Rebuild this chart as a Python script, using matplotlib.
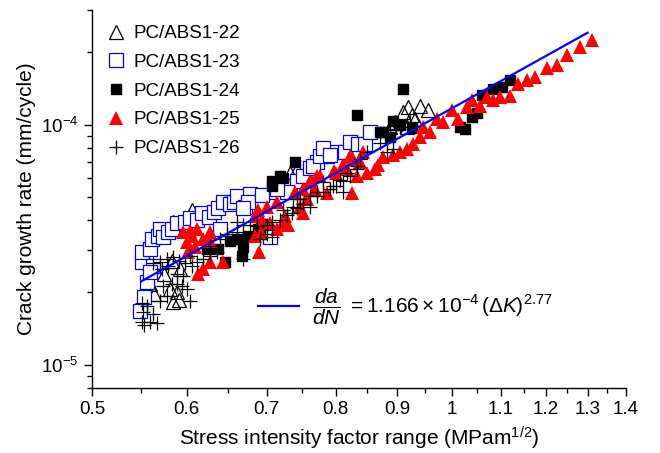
import numpy as np
import matplotlib
matplotlib.use("Agg")
import matplotlib.pyplot as plt
from matplotlib.ticker import FixedLocator, FixedFormatter, NullFormatter

plt.rcParams['font.family'] = ['Liberation Sans', 'DejaVu Sans']
plt.rcParams['mathtext.fontset'] = 'custom'
plt.rcParams['mathtext.rm'] = 'Liberation Sans'
plt.rcParams['mathtext.it'] = 'Liberation Sans:italic'

# PC/ABS1-22 (open triangles)
x22 = [0.585, 0.606, 0.575, 0.583, 0.593, 0.581, 0.589, 0.585, 0.591, 0.559, 0.564,
       0.705, 0.714, 0.732, 0.742, 0.725, 0.897, 0.888, 0.911, 0.927, 0.955, 0.932,
       0.918, 0.941, 0.920]
y22 = [3.93e-5, 4.4e-5, 2.39e-5, 2.71e-5, 2.5e-5, 2.07e-5, 2.01e-5, 1.83e-5, 1.86e-5,
       2.17e-5, 1.97e-5, 5.25e-5, 5.75e-5, 6.3e-5, 6.5e-5, 5.9e-5, 1.02e-4, 9.8e-5,
       1.13e-4, 1.10e-4, 1.15e-4, 1.05e-4, 9.8e-5, 1.2e-4, 1.18e-4]

# PC/ABS1-23 (open blue squares)
x23 = [0.548, 0.553, 0.556, 0.551, 0.551, 0.559, 0.561, 0.568, 0.570, 0.573, 0.579,
       0.583, 0.589, 0.598, 0.604, 0.612, 0.618, 0.626, 0.632, 0.638, 0.644, 0.652,
       0.658, 0.661, 0.671, 0.678, 0.675, 0.669, 0.640, 0.562, 0.559, 0.705, 0.732,
       0.742, 0.751, 0.761, 0.771, 0.786, 0.801, 0.728, 0.766, 0.776, 0.781, 0.791,
       0.814, 0.822, 0.835, 0.846, 0.855, 0.694, 0.714]
y23 = [1.68e-5, 1.92e-5, 2.22e-5, 2.68e-5, 2.95e-5, 3.03e-5, 3.33e-5, 3.43e-5, 3.67e-5,
       3.4e-5, 3.57e-5, 3.67e-5, 3.9e-5, 3.93e-5, 4.08e-5, 4.0e-5, 4.28e-5, 4.14e-5,
       4.32e-5, 4.5e-5, 4.75e-5, 4.65e-5, 4.78e-5, 5.03e-5, 4.55e-5, 5.13e-5, 4.75e-5,
       4.5e-5, 3.67e-5, 2.57e-5, 2.43e-5, 3.4e-5, 5.53e-5, 5.8e-5, 6.1e-5, 6.6e-5,
       7.0e-5, 7.4e-5, 7.7e-5, 5.25e-5, 6.7e-5, 7.4e-5, 8.0e-5, 7.5e-5, 7.7e-5, 8.5e-5,
       8.3e-5, 8.3e-5, 9.35e-5, 5.1e-5, 5.4e-5]

# PC/ABS1-24 (filled black squares)
x24 = [0.911, 0.833, 0.740, 0.723, 0.708, 0.718, 0.708, 0.871, 0.888, 0.876, 0.893,
       0.906, 0.927, 1.04, 1.05, 1.016, 1.026, 1.06, 1.083, 1.102, 1.119, 0.669,
       0.675, 0.661, 0.689, 0.691, 0.646, 0.668, 0.637, 0.652, 0.624, 0.692]
y24 = [1.41e-4, 1.10e-4, 7.0e-5, 6.0e-5, 5.8e-5, 6.1e-5, 5.53e-5, 9.35e-5, 8.9e-5,
       9.35e-5, 1.03e-4, 1.0e-4, 9.7e-5, 1.07e-4, 1.12e-4, 9.8e-5, 9.6e-5, 1.33e-4,
       1.40e-4, 1.44e-4, 1.54e-4, 3.1e-5, 3.43e-5, 3.33e-5, 3.67e-5, 3.5e-5, 2.68e-5,
       2.84e-5, 3.03e-5, 3.27e-5, 3.03e-5, 3.87e-5]

# PC/ABS1-25 (filled red triangles)
x25 = [1.31, 1.281, 1.25, 1.226, 1.202, 1.175, 1.157, 1.137, 1.119, 1.098, 1.083,
       1.07, 1.056, 1.04, 1.03, 1.012, 1.0, 0.984, 0.973, 0.96, 0.947, 0.941, 0.928,
       0.917, 0.906, 0.894, 0.876, 0.868, 0.863, 0.85, 0.843, 0.838, 0.827, 0.822,
       0.817, 0.833, 0.825, 0.798, 0.81, 0.776, 0.764, 0.769, 0.786, 0.757, 0.747,
       0.751, 0.725, 0.811, 0.801, 0.771, 0.761, 0.751, 0.740, 0.714, 0.701, 0.689,
       0.684, 0.694, 0.705, 0.723, 0.729, 0.714, 0.692, 0.684, 0.690, 0.628, 0.612,
       0.606, 0.600, 0.619, 0.628, 0.610, 0.602, 0.619, 0.613, 0.628, 0.644, 0.604,
       0.596]
y25 = [2.25e-4, 2.11e-4, 1.95e-4, 1.77e-4, 1.72e-4, 1.58e-4, 1.54e-4, 1.47e-4, 1.31e-4,
       1.30e-4, 1.27e-4, 1.30e-4, 1.19e-4, 1.27e-4, 1.18e-4, 1.05e-4, 1.15e-4, 1.02e-4,
       1.05e-4, 9.3e-5, 9.8e-5, 8.9e-5, 8.3e-5, 7.9e-5, 7.7e-5, 7.5e-5, 7.3e-5, 6.8e-5,
       6.5e-5, 6.3e-5, 7.65e-5, 7.0e-5, 7.2e-5, 7.4e-5, 6.5e-5, 6.1e-5, 5.2e-5, 6.4e-5,
       6.6e-5, 6.1e-5, 5.75e-5, 5.4e-5, 5.2e-5, 4.9e-5, 4.55e-5, 4.3e-5, 4.15e-5,
       6.8e-5, 6.3e-5, 6.1e-5, 5.8e-5, 5.4e-5, 5.25e-5, 4.75e-5, 4.55e-5, 4.4e-5,
       4.15e-5, 4.0e-5, 3.9e-5, 3.9e-5, 3.8e-5, 3.67e-5, 3.57e-5, 3.43e-5, 2.95e-5,
       3.57e-5, 3.67e-5, 3.43e-5, 3.25e-5, 3.33e-5, 3.27e-5, 3.1e-5, 2.95e-5, 2.5e-5,
       2.39e-5, 2.68e-5, 2.68e-5, 3.6e-5, 3.57e-5]

# PC/ABS1-26 (plus)
x26 = [0.551, 0.553, 0.559, 0.567, 0.552, 0.556, 0.562, 0.551, 0.570, 0.578, 0.583,
       0.589, 0.595, 0.601, 0.604, 0.573, 0.570, 0.578, 0.585, 0.591, 0.598, 0.606,
       0.612, 0.619, 0.628, 0.636, 0.604, 0.572, 0.562, 0.579, 0.589, 0.596, 0.661,
       0.669, 0.678, 0.687, 0.701, 0.708, 0.718, 0.728, 0.735, 0.742, 0.751, 0.761,
       0.771, 0.781, 0.791, 0.801, 0.811, 0.822, 0.833, 0.781, 0.761, 0.742, 0.723,
       0.691, 0.701, 0.708, 0.661, 0.649, 0.640, 0.628, 0.669, 0.888, 0.906, 0.923,
       0.871, 0.883, 0.894, 0.850, 0.838, 0.833, 0.817, 0.806, 0.796, 0.771, 0.747,
       0.737, 0.811]
y26 = [1.51e-5, 1.46e-5, 1.51e-5, 1.49e-5, 1.66e-5, 1.76e-5, 1.63e-5, 1.8e-5, 1.84e-5,
       1.93e-5, 2.17e-5, 2.17e-5, 2.13e-5, 2.07e-5, 1.84e-5, 2.13e-5, 2.68e-5, 2.76e-5,
       2.82e-5, 2.71e-5, 2.64e-5, 2.57e-5, 2.68e-5, 2.76e-5, 2.84e-5, 2.95e-5, 2.84e-5,
       2.5e-5, 2.64e-5, 2.57e-5, 2.39e-5, 2.33e-5, 3.93e-5, 3.83e-5, 3.8e-5, 3.77e-5,
       3.83e-5, 3.93e-5, 4.0e-5, 4.2e-5, 4.3e-5, 4.5e-5, 4.65e-5, 4.55e-5, 5.03e-5,
       5.25e-5, 5.4e-5, 5.53e-5, 5.8e-5, 6.1e-5, 6.5e-5, 5.75e-5, 5.03e-5, 4.9e-5,
       4.4e-5, 3.33e-5, 3.5e-5, 3.4e-5, 3.57e-5, 3.5e-5, 3.33e-5, 3.13e-5, 2.76e-5,
       9.5e-5, 9.8e-5, 1.02e-4, 8.4e-5, 7.7e-5, 7.9e-5, 7.7e-5, 7.2e-5, 6.7e-5, 6.3e-5,
       5.9e-5, 5.53e-5, 5.25e-5, 4.9e-5, 4.55e-5, 5.25e-5]

# power-law fit shown on the chart
fit_coef = 1.166e-4
fit_exp = 2.77
fit_range = [0.55, 1.3]

x_ticks = [0.5, 0.6, 0.7, 0.8, 0.9, 1.0, 1.1, 1.2, 1.3, 1.4]
x_tick_labels = ['0.5', '0.6', '0.7', '0.8', '0.9', '1', '1.1', '1.2', '1.3', '1.4']
x_minor = [0.55, 0.65, 0.75, 0.85, 0.95, 1.05, 1.15, 1.25, 1.35]

fig = plt.figure(figsize=(6.6, 4.53), dpi=100)
ax = fig.add_axes([0.1394, 0.1435, 0.8091, 0.8345])

ax.plot(x22, y22, ls='none', marker='^', ms=10.5, mfc='none', mec='black', mew=0.9,
        label='PC/ABS1-22')
ax.plot(x23, y23, ls='none', marker='s', ms=9.5, mfc='white', mec='#0000ff', mew=0.9,
        label='PC/ABS1-23')
ax.plot(x24, y24, ls='none', marker='s', ms=6.5, mfc='black', mec='black',
        label='PC/ABS1-24')
ax.plot(x25, y25, ls='none', marker='^', ms=10.5, mfc='#ff0000', mec='#ff0000', mew=0,
        label='PC/ABS1-25')
ax.plot(x26, y26, ls='none', marker='+', ms=10.5, mec='black', mew=0.9,
        label='PC/ABS1-26')

x_fit = np.linspace(fit_range[0], fit_range[1], 200)
y_fit = fit_coef * x_fit ** fit_exp
fit_line, = ax.plot(x_fit, y_fit, color='#0000ff', lw=1.6)

ax.set_xscale('log')
ax.set_yscale('log')
ax.set_xlim(0.5, 1.4)
ax.set_ylim(8e-6, 3e-4)

ax.xaxis.set_major_locator(FixedLocator(x_ticks))
ax.xaxis.set_major_formatter(FixedFormatter(x_tick_labels))
ax.xaxis.set_minor_locator(FixedLocator(x_minor))
ax.xaxis.set_minor_formatter(NullFormatter())
ax.yaxis.set_major_locator(FixedLocator([1e-5, 1e-4]))
ax.yaxis.set_major_formatter(FixedFormatter([r'$10^{-5}$', r'$10^{-4}$']))
ax.yaxis.set_minor_locator(FixedLocator([k * 1e-6 for k in (8, 9)] +
                                        [k * 1e-5 for k in range(2, 10)] +
                                        [k * 1e-4 for k in (2, 3)]))
ax.yaxis.set_minor_formatter(NullFormatter())

ax.tick_params(which='major', direction='out', length=6, width=1, labelsize=13.5)
ax.tick_params(which='minor', direction='out', length=3.5, width=1)
for s in ['top', 'right']:
    ax.spines[s].set_visible(False)
for s in ['left', 'bottom']:
    ax.spines[s].set_linewidth(1)

ax.set_xlabel('Stress intensity factor range (MPam$^{1/2}$)', fontsize=15, labelpad=5)
ax.set_ylabel('Crack growth rate (mm/cycle)', fontsize=15, labelpad=4)

leg1 = ax.legend(loc='upper left', bbox_to_anchor=(0.0, 0.995), frameon=False,
                 fontsize=13.5, handletextpad=0.3, labelspacing=0.62,
                 handlelength=1.2, borderaxespad=0.3)
ax.add_artist(leg1)
eq = r'$\dfrac{da}{dN}\ = 1.166\times10^{-4}\,(\Delta K)^{2.77}$'
ax.legend([fit_line], [eq], loc='center left', bbox_to_anchor=(0.275, 0.215),
          frameon=False, fontsize=15, handlelength=2.0, handletextpad=0.6)

fig.savefig('out.png', dpi=100)
